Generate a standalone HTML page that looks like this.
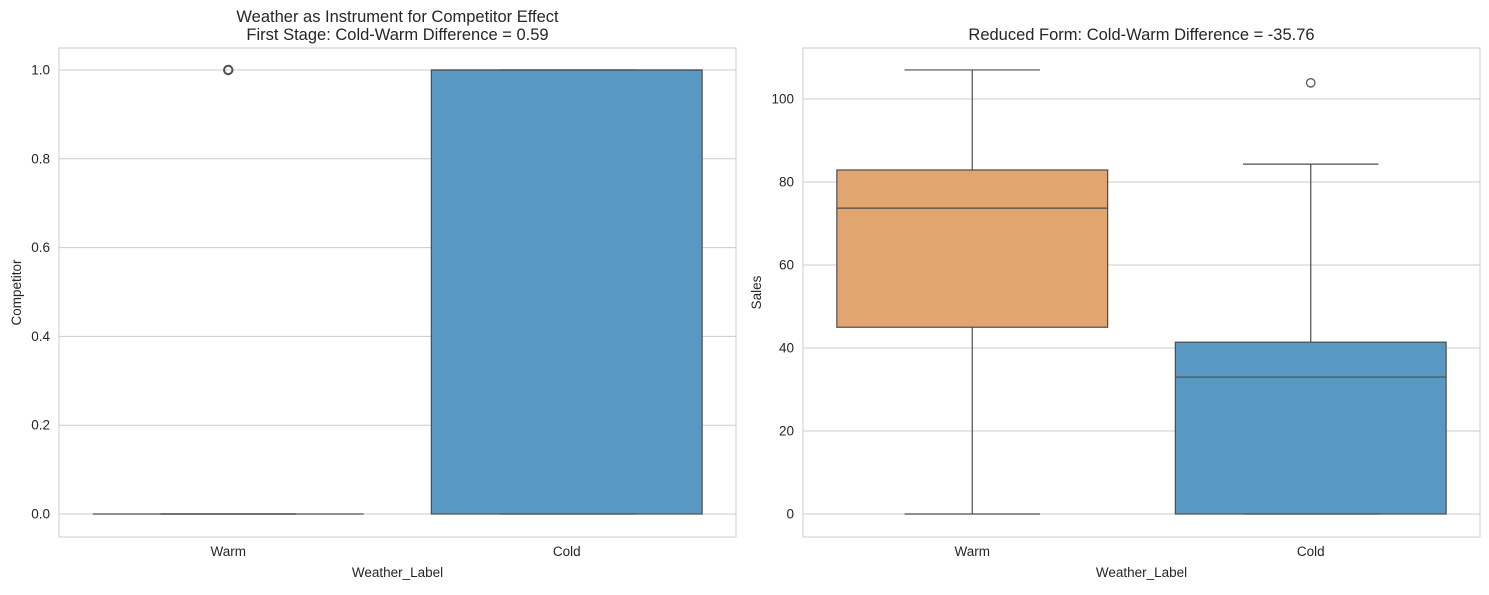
<!DOCTYPE html>
<html><head><meta charset="utf-8">
<style>
body{margin:0;background:#fff;}
svg{font-family:"Liberation Sans","DejaVu Sans",sans-serif;}
</style></head>
<body>
<svg id="chart" width="1489" height="590" viewBox="0 0 1489 590" xmlns="http://www.w3.org/2000/svg"></svg>
<script>
const categories = ["Warm","Cold"];
// Left panel: Competitor
const compStats = [
  {min:0,q1:0,med:0,q3:0,max:0,outliers:[1]},
  {min:0,q1:0,med:1,q3:1,max:1,outliers:[]}
];
const compTicks = [0,0.2,0.4,0.6,0.8,1.0];
const compTickLabels = ["0.0","0.2","0.4","0.6","0.8","1.0"];
// Right panel: Sales
const salesStats = [
  {min:0,q1:45,med:73.7,q3:82.9,max:107,outliers:[]},
  {min:0,q1:0,med:33,q3:41.4,max:84.3,outliers:[103.9]}
];
const salesTicks = [0,20,40,60,80,100];
const salesTickLabels = ["0","20","40","60","80","100"];

const NS="http://www.w3.org/2000/svg";
const svg=document.getElementById('chart');
function mk(tag,attrs,parent){const e=document.createElementNS(NS,tag);for(const k in attrs)e.setAttribute(k,attrs[k]);(parent||svg).appendChild(e);return e;}

function panel(p){
  const g=mk('g',{});
  
  
  const {x0,x1,y0,y1}=p;
  const ys=v=>p.yZero-(v-0)*(p.yZero-p.yTop)/p.topVal;
  const bw=(x1-x0)/categories.length;
  const xs=i=>x0+bw*(i+0.5);
  p.ticks.forEach((t,i)=>{
    const y=ys(t);
    const gl=mk('line',{x1:x0,x2:x1,y1:y,y2:y,stroke:'#cccccc','stroke-width':1},g);
    
    
    const tl=mk('text',{x:x0-9,y:y+4.5,'text-anchor':'end','font-size':13.5,fill:'#262626'},g);
    tl.textContent=p.tickLabels[i];
    
    
  });
  const fr=mk('rect',{x:x0,y:y0,width:x1-x0,height:y1-y0,fill:'none',stroke:'#cccccc','stroke-width':1},g);
  
  
  p.stats.forEach((s,i)=>{
    const cx=xs(i), w=bw*0.8;
    const col=p.colors[i];
    const bg=mk('g',{},g);
    
    
    mk('line',{x1:cx,x2:cx,y1:ys(s.q3),y2:ys(s.max),stroke:'#4d4d4d','stroke-width':1.2},bg);
    mk('line',{x1:cx,x2:cx,y1:ys(s.q1),y2:ys(s.min),stroke:'#4d4d4d','stroke-width':1.2},bg);
    mk('line',{x1:cx-w/4,x2:cx+w/4,y1:ys(s.max),y2:ys(s.max),stroke:'#4d4d4d','stroke-width':1.2},bg);
    mk('line',{x1:cx-w/4,x2:cx+w/4,y1:ys(s.min),y2:ys(s.min),stroke:'#4d4d4d','stroke-width':1.2},bg);
    mk('rect',{x:cx-w/2,y:ys(s.q3),width:w,height:Math.max(0,ys(s.q1)-ys(s.q3)),fill:col,stroke:'#4d4d4d','stroke-width':1.2},bg);
    mk('line',{x1:cx-w/2,x2:cx+w/2,y1:ys(s.med),y2:ys(s.med),stroke:'#4d4d4d','stroke-width':1.2},bg);
    s.outliers.forEach(o=>{
      const c=mk('circle',{cx:cx,cy:ys(o),r:4.2,fill:'none',stroke:'#4d4d4d','stroke-width':p.outlierStroke},bg);
      
      
    });
    const xl=mk('text',{x:cx,y:y1+19,'text-anchor':'middle','font-size':13.5,fill:'#262626'},g);
    xl.textContent=categories[i];
    
    
  });
  const xt=mk('text',{x:(x0+x1)/2,y:y1+40,'text-anchor':'middle','font-size':13.5,fill:'#262626'},g);
  xt.textContent='Weather_Label';
  
  
  const yt=mk('text',{x:0,y:0,'text-anchor':'middle','font-size':13.5,fill:'#262626',transform:`translate(${p.yTitleX},${(y0+y1)/2}) rotate(-90)`},g);
  yt.textContent=p.yTitle;
  
  
  p.title.forEach((t,k)=>{
    const tt=mk('text',{x:(x0+x1)/2,y:p.titleY+k*18,'text-anchor':'middle','font-size':16.5,fill:'#262626'},g);
    tt.textContent=t;
    
    
  });
}
panel({name:'competitor-panel',x0:59,x1:736,y0:48,y1:537,yZero:514,yTop:70,topVal:1,ticks:compTicks,tickLabels:compTickLabels,stats:compStats,colors:['#e1a56f','#5a98c4'],yTitle:'Competitor',yTitleX:21,title:['Weather as Instrument for Competitor Effect','First Stage: Cold-Warm Difference = 0.59'],titleY:22,outlierStroke:2});
panel({name:'sales-panel',x0:803,x1:1480,y0:48,y1:537,yZero:514,yTop:99,topVal:100,ticks:salesTicks,tickLabels:salesTickLabels,stats:salesStats,colors:['#e1a56f','#5a98c4'],yTitle:'Sales',yTitleX:761,title:['Reduced Form: Cold-Warm Difference = -35.76'],titleY:40,outlierStroke:1.2});
</script>
</body></html>
